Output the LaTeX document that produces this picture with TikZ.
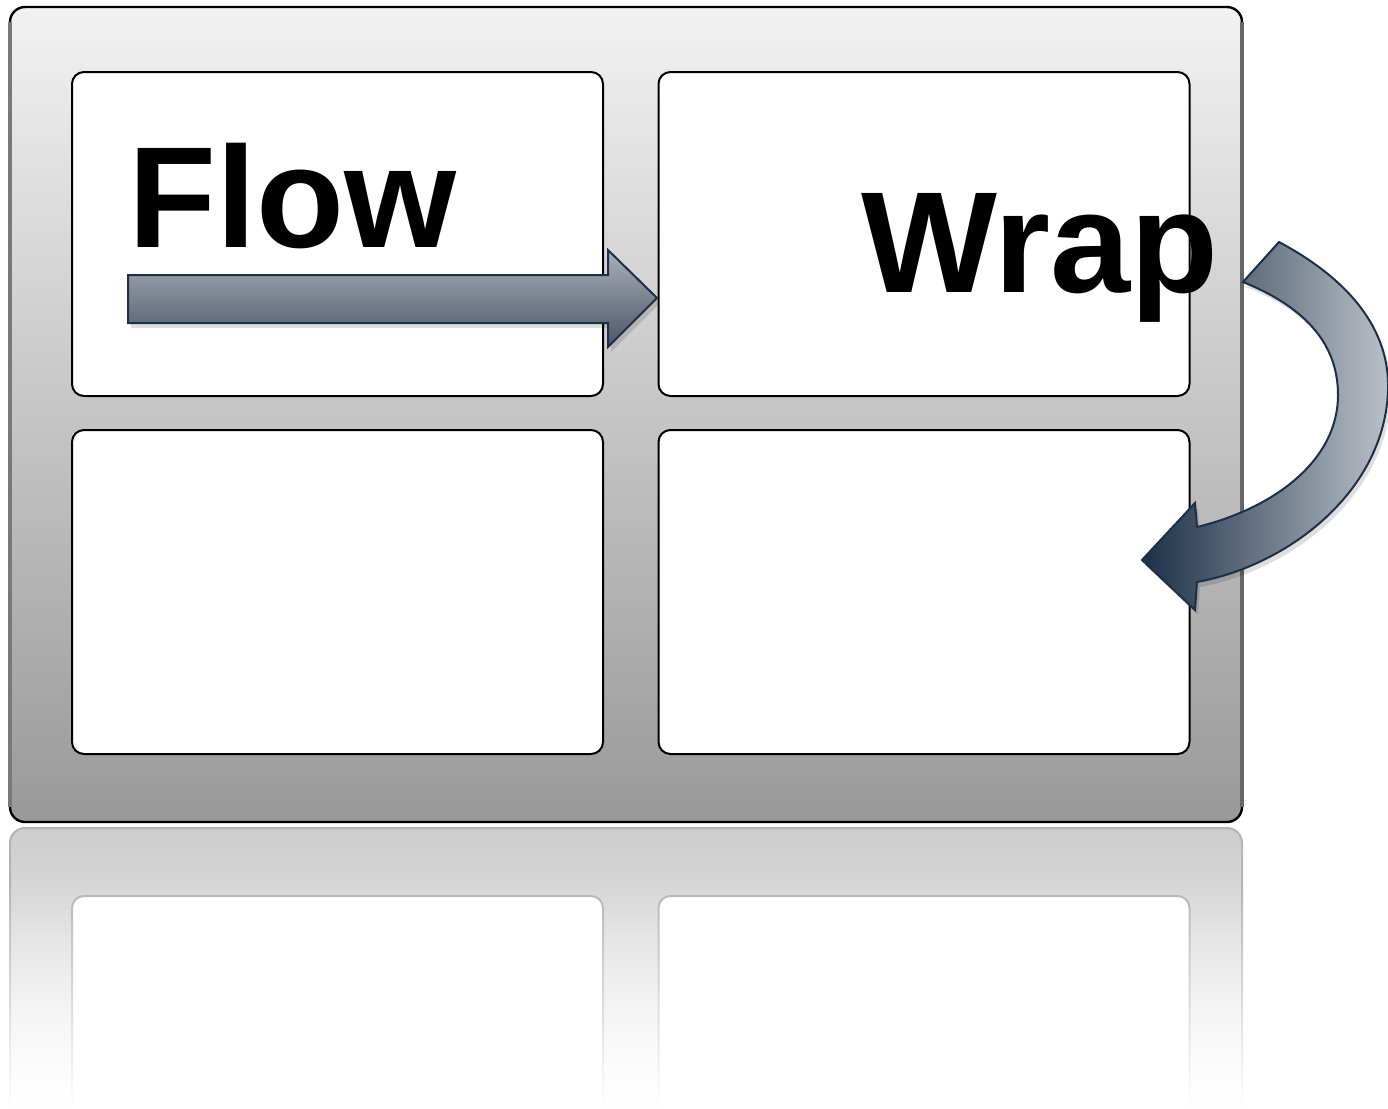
\documentclass[tikz,border=0pt]{standalone}
\usepackage{fontspec}
\setmainfont{Liberation Sans}
\usetikzlibrary{fadings}
\definecolor{frametop}{HTML}{F2F2F2}
\definecolor{framebot}{HTML}{999999}
\definecolor{arrline}{HTML}{1C3048}
\definecolor{arrtop}{HTML}{AAB0B9}
\definecolor{arrbot}{HTML}{4B5566}
\definecolor{arrlight}{HTML}{BCC1C8}
\definecolor{refltop}{HTML}{CDCDCD}
\definecolor{reflline}{HTML}{B4B4B4}
\tikzset{
  cell/.style={draw=black, fill=white, line width=1pt, rounded corners=6pt,
    minimum width=265.5pt, minimum height=162pt, inner sep=0pt, outer sep=0pt},
  reflcell/.style={cell, draw=reflline},
  bigword/.style={font=\fontsize{72}{76}\selectfont\bfseries, inner sep=0pt, anchor=base west},
  arrowshape/.style={draw=arrline, line width=1pt, line join=miter},
  shadowshape/.style={fill=black, opacity=0.13},
}
\begin{document}
\begin{tikzpicture}[x=0.5pt,y=-0.5pt]
\useasboundingbox (0,0) rectangle (1388,1109);
\clip (0,0) rectangle (1388,1109);
% ---------- reflection ----------
\shade[top color=refltop, bottom color=white, draw=reflline, line width=1pt, rounded corners=7.5pt]
  (10,828) rectangle (1242,1180);
\node[reflcell] (rbl) at (337.5,1058) {};
\node[reflcell] (rbr) at (924,1058) {};
\fill[white, path fading=north] (0,880) rectangle (1388,1109);
% ---------- main frame ----------
\shade[top color=frametop, bottom color=framebot, rounded corners=7.5pt]
  (10,7) rectangle (1242,822);
\draw[black, line width=1.2pt, rounded corners=7.5pt] (10,7) rectangle (1242,822);
\draw[gray!95!black, line width=1.6pt] (10,22) -- (10,807);
\draw[gray!80!black, line width=1.6pt] (1242,22) -- (1242,807);
% ---------- cells ----------
\node[cell] (tl) at (337.5,234) {};
\node[cell] (tr) at (924,234) {};
\node[cell] (bl) at (337.5,592) {};
\node[cell] (br) at (924,592) {};
% ---------- texts ----------
\node[bigword] (flow) at (128,247) {Flow};
\node[bigword] (wrap) at (861,292) {Wrap};
% ---------- straight arrow ----------
\fill[shadowshape] (131,280) -- (611,280) -- (611,255) -- (660,303) -- (611,352) -- (611,328) -- (131,328) -- cycle;
\shade[arrowshape, top color=arrtop, bottom color=arrbot]
  (128,275) -- (608,275) -- (608,250) -- (657,298) -- (608,347) -- (608,323) -- (128,323) -- cycle;
% ---------- curved arrow ----------
\begin{scope}[shift={(3,5)}]
\fill[shadowshape]
  (1279,242) .. controls (1350,280) and (1390,330) .. (1388,390)
  .. controls (1385,490) and (1290,565) .. (1197,582)
  -- (1195,610) -- (1142,560) -- (1195,503) -- (1197,527)
  .. controls (1275,508) and (1338,460) .. (1338,395)
  .. controls (1338,340) and (1300,305) .. (1243,282) -- cycle;
\end{scope}
\shade[arrowshape, left color=arrline, right color=arrlight]
  (1279,242) .. controls (1350,280) and (1390,330) .. (1388,390)
  .. controls (1385,490) and (1290,565) .. (1197,582)
  -- (1195,610) -- (1142,560) -- (1195,503) -- (1197,527)
  .. controls (1275,508) and (1338,460) .. (1338,395)
  .. controls (1338,340) and (1300,305) .. (1243,282) -- cycle;
\end{tikzpicture}
\end{document}
